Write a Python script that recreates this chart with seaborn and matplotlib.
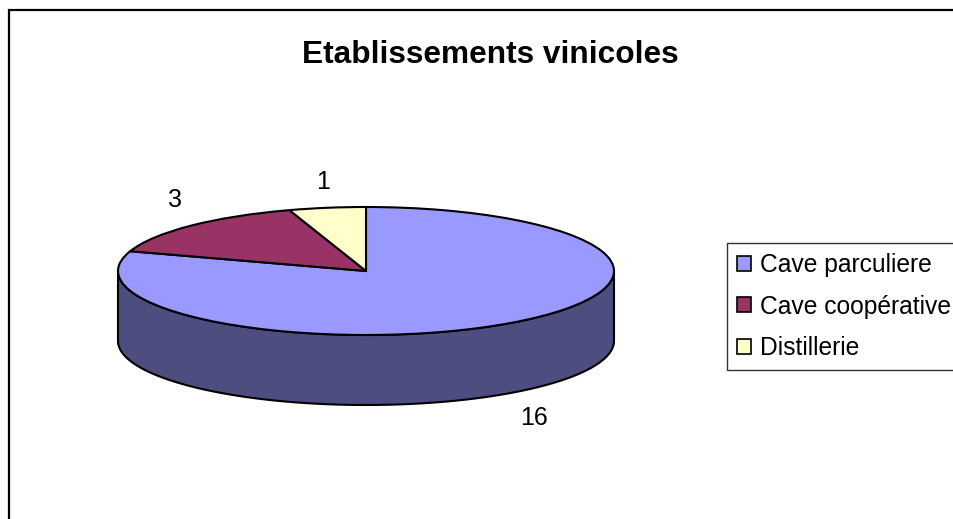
import numpy as np
import seaborn as sns
import matplotlib.pyplot as plt
from matplotlib.patches import Rectangle

categories = ["Cave parculiere", "Cave coopérative", "Distillerie"]
values = [16, 3, 1]
colors = ["#9999FF", "#993366", "#FFFFCC"]
side_color = "#4D4D80"

sns.set_theme(style="white")
plt.rcParams['font.family'] = ['Liberation Sans', 'DejaVu Sans']

W, H = 954, 519
cx, cy = 366, 271   # centre of the top ellipse, pixels
rx, ry = 248, 64
depth = 70 / ry

fig = plt.figure(figsize=(W / 100, H / 100), dpi=100)
ax = fig.add_axes([0, 0, 1, 1])

# side of the disc, only the front half shows
t = np.linspace(np.pi, 2 * np.pi, 200)
x = np.concatenate([np.cos(t), np.cos(t)[::-1]])
y = np.concatenate([np.sin(t), np.sin(t)[::-1] - depth])
ax.fill(x, y, facecolor=side_color, edgecolor="black", linewidth=1.5, zorder=1)

wedges, _ = ax.pie(values, colors=colors, startangle=90, counterclock=False,
                   wedgeprops=dict(edgecolor="black", linewidth=1.5, zorder=2))

ax.set_aspect("auto")
ax.set_xlim(-cx / rx, (W - cx) / rx)
ax.set_ylim((cy - H) / ry, cy / ry)
ax.axis("off")

# value labels
label_px = [(534, 418), (175, 200), (323, 182)]
for v, (px, py) in zip(values, label_px):
    fig.text(px / W, 1 - py / H, str(v), fontsize=18, color="black",
             ha="center", va="center")

fig.text(490 / W, 1 - 55 / H, "Etablissements vinicoles", fontsize=22.8,
         fontweight="bold", color="black", ha="center", va="center")

# chart border
fig.add_artist(Rectangle((9 / W, -0.1), 1.1, 1.1 - 10 / H,
                         transform=fig.transFigure, fill=False,
                         edgecolor="black", linewidth=1.6))

leg = ax.legend(wedges, categories, loc="upper left",
                bbox_to_anchor=(727 / W, 1 - 243 / H),
                bbox_transform=fig.transFigure, borderaxespad=0,
                fontsize=17.7, fancybox=False, framealpha=1, edgecolor="#333333",
                handlelength=0.56, handleheight=0.56, handletextpad=0.36,
                labelspacing=0.70, borderpad=0.42, labelcolor="black")
leg.get_frame().set_linewidth(1.0)
for h in leg.legend_handles:
    h.set_linewidth(1.2)

plt.savefig("out.png", dpi=100)
